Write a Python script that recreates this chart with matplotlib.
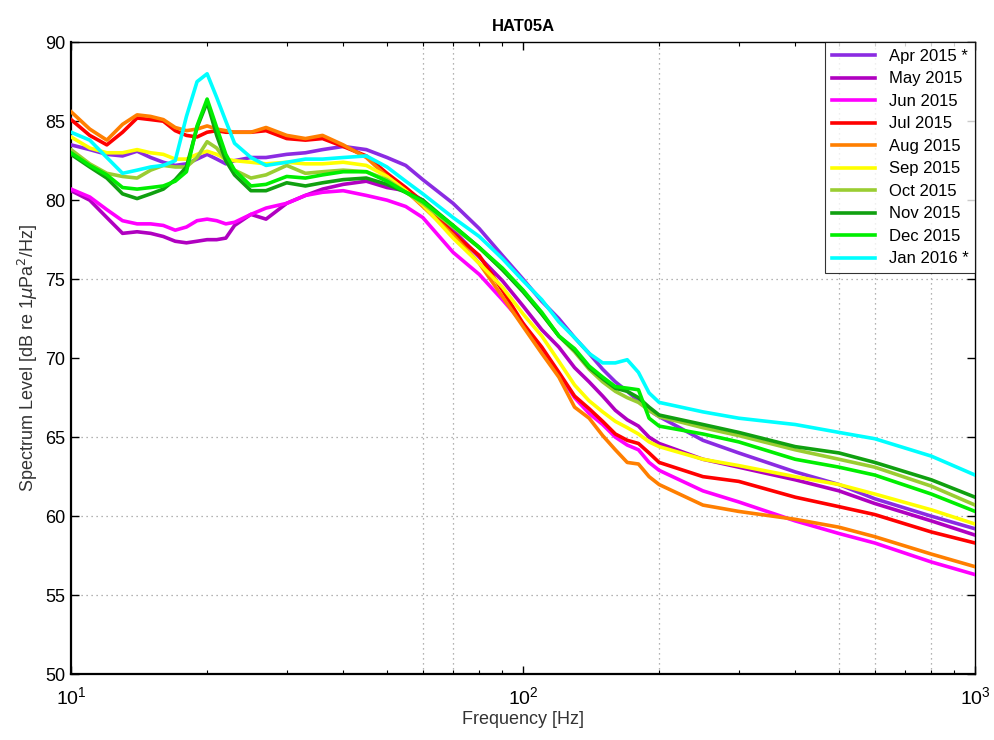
import numpy as np
import matplotlib
matplotlib.use('Agg')
import matplotlib.pyplot as plt
from matplotlib.ticker import FixedLocator, LogLocator, NullFormatter

plt.rcParams['font.family'] = ['Liberation Sans', 'DejaVu Sans']

freq = [10, 11, 12, 13, 14, 15, 16, 17, 18, 19, 20, 21, 22, 23, 25, 27, 30, 33, 36, 40,
        45, 50, 55, 60, 70, 80, 90, 100, 110, 120, 130, 140, 150, 160, 170, 180, 190,
        200, 250, 300, 400, 500, 600, 800, 1000]

apr15 = [83.5, 83.2, 82.9, 82.8, 83.1, 82.7, 82.4, 82.2, 82.3, 82.6, 82.9, 82.6, 82.3, 82.5, 82.7,
         82.7, 82.9, 83.0, 83.2, 83.4, 83.2, 82.7, 82.2, 81.3, 79.8, 78.2, 76.5, 75.0, 73.6, 72.5,
         71.3, 70.3, 69.3, 68.5, 67.9, 67.3, 66.7, 66.3, 64.8, 64.0, 62.8, 62.0, 61.1, 60.0, 59.2]
may15 = [80.6, 80.0, 78.9, 77.9, 78.0, 77.9, 77.7, 77.4, 77.3, 77.4, 77.5, 77.5, 77.6, 78.4, 79.1,
         78.8, 79.8, 80.3, 80.7, 81.0, 81.2, 80.8, 80.6, 80.0, 78.1, 76.4, 74.9, 73.3, 71.8, 70.7,
         69.4, 68.5, 67.6, 66.7, 66.1, 65.7, 65.0, 64.6, 63.6, 63.1, 62.3, 61.6, 60.8, 59.7, 58.8]
jun15 = [80.7, 80.2, 79.4, 78.7, 78.5, 78.5, 78.4, 78.1, 78.3, 78.7, 78.8, 78.7, 78.5, 78.6, 79.1,
         79.5, 79.8, 80.3, 80.5, 80.6, 80.3, 80.0, 79.6, 78.9, 76.7, 75.3, 73.7, 72.2, 70.4, 69.0,
         67.5, 66.5, 65.8, 65.0, 64.5, 64.2, 63.4, 62.9, 61.6, 60.9, 59.7, 58.9, 58.3, 57.1, 56.3]
jul15 = [85.1, 84.1, 83.5, 84.3, 85.2, 85.1, 85.0, 84.4, 84.1, 84.0, 84.3, 84.4, 84.3, 84.3, 84.3,
         84.4, 83.9, 83.8, 83.9, 83.4, 82.8, 81.7, 80.8, 79.9, 77.9, 76.5, 74.3, 72.2, 70.7, 69.1,
         67.6, 66.8, 66.0, 65.2, 64.8, 64.6, 64.0, 63.4, 62.5, 62.2, 61.2, 60.6, 60.1, 59.0, 58.3]
aug15 = [85.6, 84.5, 83.8, 84.8, 85.4, 85.3, 85.1, 84.6, 84.4, 84.5, 84.7, 84.5, 84.4, 84.3, 84.3,
         84.6, 84.1, 83.9, 84.1, 83.5, 82.7, 81.5, 80.6, 79.6, 77.8, 76.0, 73.9, 72.0, 70.3, 68.8,
         66.9, 66.2, 65.1, 64.2, 63.4, 63.3, 62.5, 62.0, 60.7, 60.3, 59.8, 59.3, 58.7, 57.6, 56.8]
sep15 = [84.0, 83.3, 83.0, 83.0, 83.2, 83.0, 82.9, 82.6, 82.6, 82.9, 83.1, 82.9, 82.6, 82.5, 82.4,
         82.3, 82.4, 82.3, 82.3, 82.4, 82.2, 81.5, 80.6, 79.7, 77.6, 76.0, 74.5, 72.8, 71.4, 69.8,
         68.3, 67.3, 66.6, 66.0, 65.6, 65.2, 64.7, 64.4, 63.6, 63.2, 62.5, 62.0, 61.4, 60.4, 59.5]
oct15 = [83.2, 82.3, 81.7, 81.5, 81.4, 81.9, 82.2, 82.1, 82.1, 82.7, 83.7, 83.3, 82.5, 81.9, 81.4,
         81.6, 82.2, 81.7, 81.8, 81.9, 81.8, 81.3, 80.5, 79.8, 78.3, 77.0, 75.6, 74.3, 72.8, 71.4,
         70.4, 69.3, 68.5, 67.9, 67.5, 67.2, 66.7, 66.3, 65.6, 65.1, 64.2, 63.6, 63.1, 61.9, 60.7]
nov15 = [82.9, 82.1, 81.4, 80.4, 80.1, 80.4, 80.7, 81.3, 82.1, 84.6, 86.2, 84.1, 82.5, 81.6, 80.6,
         80.6, 81.1, 80.9, 81.1, 81.3, 81.4, 81.0, 80.5, 80.0, 78.4, 77.0, 75.6, 74.2, 72.8, 71.4,
         70.5, 69.4, 68.7, 68.1, 67.9, 67.5, 66.9, 66.4, 65.8, 65.3, 64.4, 64.0, 63.4, 62.3, 61.2]
dec15 = [83.0, 82.2, 81.6, 80.8, 80.7, 80.8, 80.9, 81.2, 81.8, 84.7, 86.4, 84.6, 82.9, 81.9, 80.9,
         81.0, 81.5, 81.4, 81.6, 81.8, 81.8, 81.2, 80.5, 79.9, 78.4, 77.0, 75.7, 74.3, 72.9, 71.4,
         70.6, 69.5, 68.8, 68.2, 68.1, 68.0, 66.2, 65.7, 65.2, 64.7, 63.6, 63.1, 62.6, 61.4, 60.3]
jan16 = [84.3, 83.8, 82.7, 81.7, 81.9, 82.1, 82.2, 82.5, 85.3, 87.5, 88.0, 86.5, 85.0, 83.6, 82.7,
         82.2, 82.4, 82.6, 82.6, 82.7, 82.8, 82.1, 81.2, 80.4, 78.9, 77.7, 76.3, 74.9, 73.7, 72.3,
         71.3, 70.3, 69.7, 69.7, 69.9, 69.1, 67.8, 67.2, 66.6, 66.2, 65.8, 65.3, 64.9, 63.8, 62.6]

labels = ['Apr 2015 *', 'May 2015', 'Jun 2015', 'Jul 2015', 'Aug 2015',
          'Sep 2015', 'Oct 2015', 'Nov 2015', 'Dec 2015', 'Jan 2016 *']
colors = ['#8B2BE2', '#B000C0', '#FF00FF', '#FF0000', '#FF7F00',
          '#FFFF00', '#9ACD32', '#10A010', '#00EE00', '#00FFFF']
series = [apr15, may15, jun15, jul15, aug15, sep15, oct15, nov15, dec15, jan16]

hgrid = [55, 60, 65, 75]
vgrid = [60, 70, 200, 500, 600, 800]

fig = plt.figure(figsize=(9.95, 7.4), dpi=100)
ax = fig.add_axes([0.0714, 0.089, 0.9086, 0.854])

for y in hgrid:
    ax.axhline(y, color='#9a9a9a', lw=0.9, ls=(0, (1, 3)), zorder=1)
for x in vgrid:
    ax.axvline(x, color='#9a9a9a', lw=0.9, ls=(0, (1, 3)), zorder=1)

for vals, c, lab in zip(series, colors, labels):
    ax.plot(freq, vals, color=c, lw=2.6, label=lab, zorder=3)

ax.set_xscale('log')
ax.set_xlim(10, 1000)
ax.set_ylim(50, 90)
ax.yaxis.set_major_locator(FixedLocator(np.arange(50, 91, 5)))
ax.xaxis.set_minor_locator(LogLocator(base=10, subs=np.arange(2, 10)))
ax.xaxis.set_minor_formatter(NullFormatter())
ax.tick_params(which='both', direction='in', top=True, right=True, labelsize=13)
ax.tick_params(axis='x', which='major', pad=9, labelsize=14)
ax.tick_params(axis='y', which='major', pad=4)
ax.tick_params(which='major', length=6, width=1)
ax.tick_params(which='minor', length=3, width=0.8)
for s in ax.spines.values():
    s.set_linewidth(1.0)
ax.spines['left'].set_linewidth(1.6)
ax.spines['bottom'].set_linewidth(1.6)

ax.set_title('HAT05A', fontsize=12, fontweight='bold', pad=8)
ax.set_xlabel('Frequency [Hz]', fontsize=13, color='#333333', labelpad=2)
ax.set_ylabel('Spectrum Level [dB re 1$\\mu$Pa$^2$/Hz]', fontsize=13, color='#333333')

leg = ax.legend(loc='upper right', fontsize=12, frameon=True, fancybox=False,
                borderaxespad=0, handlelength=2.6, labelspacing=0.45, borderpad=0.4)
leg.get_frame().set_edgecolor('black')
leg.get_frame().set_linewidth(0.8)

fig.savefig('out.png', dpi=100)
